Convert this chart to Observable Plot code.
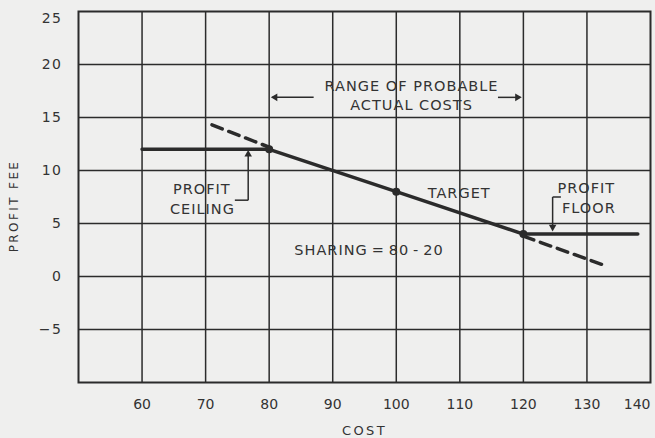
<!DOCTYPE html>
<html>
<head>
<meta charset="utf-8">
<script src="https://cdn.jsdelivr.net/npm/d3@7"></script>
<script src="https://cdn.jsdelivr.net/npm/@observablehq/plot@0.6"></script>
<style>
  html, body { margin: 0; padding: 0; background: #efefee; }
  #chart svg { display: block; background: #efefee; }
  #chart g[aria-label="text"] text { letter-spacing: 1px; }
  #chart g[aria-label="text"]:nth-of-type(n) text.axis-title { letter-spacing: 2.4px; }
  #chart g[aria-label="y-axis tick label"] text { letter-spacing: 1.5px; }
</style>
</head>
<body>
<div id="chart"></div>
<script>
// Tick values
const xTicks = [60, 70, 80, 90, 100, 110, 120, 130, 140];
const yTicks = [-5, 0, 5, 10, 15, 20, 25];
const xGrid = [60, 70, 80, 90, 100, 110, 120, 130];
const yGrid = [-5, 0, 5, 10, 15, 20];

// Profit fee schedule (solid)
const feeCost = [60, 80, 100, 120, 138];
const feeProfit = [12, 12, 8, 4, 4];

// Extension of the sharing line (dashed)
const ceilDashCost = [71, 80];
const ceilDashProfit = [14.3, 12.2];
const floorDashCost = [120, 133];
const floorDashProfit = [3.8, 1];

// Marked points: ceiling, target, floor
const pointCost = [80, 100, 120];
const pointProfit = [12, 8, 4];

// Annotations (data coordinates)
const labelText = ["RANGE OF PROBABLE", "ACTUAL COSTS", "PROFIT", "CEILING", "TARGET", "PROFIT", "FLOOR", "SHARING\u2009=\u200980\u2009-\u200920"];
const labelCost = [102.4, 102.4, 69.4, 69.5, 109.9, 129.9, 130.3, 95.7];
const labelProfit = [17.9, 16.1, 8.2, 6.3, 7.85, 8.3, 6.4, 2.5];

// Axis titles
const xTitle = "COST";
const yTitle = "PROFIT FEE";

// Arrow shafts and leader lines
const shafts = [
  {x1: 87, y1: 16.9, x2: 80.5, y2: 16.9},
  {x1: 116, y1: 16.9, x2: 119.5, y2: 16.9},
  {x1: 74.6, y1: 7.2, x2: 76.7, y2: 7.2},
  {x1: 76.7, y1: 7.2, x2: 76.7, y2: 11.5},
  {x1: 125.9, y1: 7.5, x2: 124.6, y2: 7.5},
  {x1: 124.6, y1: 7.5, x2: 124.6, y2: 4.5}
];
// Arrow tips
const tipLeft = [{x: 80, y: 16.9}];
const tipRight = [{x: 120, y: 16.9}];
const tipUp = [{x: 76.7, y: 12.1}];
const tipDown = [{x: 124.6, y: 4.1}];

const fee = feeCost.map((c, i) => ({cost: c, profit: feeProfit[i]}));
const dash1 = ceilDashCost.map((c, i) => ({cost: c, profit: ceilDashProfit[i]}));
const dash2 = floorDashCost.map((c, i) => ({cost: c, profit: floorDashProfit[i]}));
const pts = pointCost.map((c, i) => ({cost: c, profit: pointProfit[i]}));
const labels = labelText.map((t, i) => ({text: t, cost: labelCost[i], profit: labelProfit[i]}));

const ink = "#2b2b2b";
const textInk = "#333333";
const font = "DejaVu Sans, sans-serif";
const head = {symbol: "triangle2", r: 3.6, fill: ink};

const chart = Plot.plot({
  width: 655,
  height: 438,
  marginLeft: 78,
  marginRight: 5,
  marginTop: 11,
  marginBottom: 56,
  style: {fontFamily: font, background: "#efefee", color: ink},
  x: {domain: [50, 140]},
  y: {domain: [-10, 25]},
  marks: [
    Plot.ruleX(xGrid, {stroke: ink, strokeWidth: 1.5}),
    Plot.ruleY(yGrid, {stroke: ink, strokeWidth: 1.5}),
    Plot.frame({stroke: ink, strokeWidth: 2}),
    Plot.axisX(xTicks.filter(d => d !== 140), {tickSize: 0, tickPadding: 17, fontSize: 14, label: null, fill: textInk}),
    Plot.axisX([140], {tickSize: 0, tickPadding: 17, fontSize: 14, label: null, fill: textInk, textAnchor: "end"}),
    Plot.axisY(yTicks.filter(d => d !== 25), {tickSize: 0, tickPadding: 16, fontSize: 14, label: null, fill: textInk}),
    Plot.axisY([25], {tickSize: 0, tickPadding: 16, fontSize: 14, label: null, fill: textInk, dy: 7}),
    Plot.text([xTitle], {frameAnchor: "bottom", dy: 52, text: d => d, fontSize: 13, fill: textInk}),
    Plot.text([yTitle], {frameAnchor: "left", dx: -64, dy: 9, rotate: -90, textAnchor: "middle", text: d => d, fontSize: 12, fill: textInk}),
    Plot.line(dash1, {x: "cost", y: "profit", stroke: ink, strokeWidth: 3.5, strokeDasharray: "11,7"}),
    Plot.line(dash2, {x: "cost", y: "profit", stroke: ink, strokeWidth: 3.5, strokeDasharray: "11,7"}),
    Plot.line(fee, {x: "cost", y: "profit", stroke: ink, strokeWidth: 3.5}),
    Plot.dot(pts, {x: "cost", y: "profit", r: 4, fill: ink}),
    Plot.link(shafts, {x1: "x1", y1: "y1", x2: "x2", y2: "y2", stroke: ink, strokeWidth: 1.5}),
    Plot.dot(tipLeft, {x: "x", y: "y", ...head, rotate: -90, dx: 6}),
    Plot.dot(tipRight, {x: "x", y: "y", ...head, rotate: 90, dx: -6}),
    Plot.dot(tipUp, {x: "x", y: "y", ...head, rotate: 0, dy: 6}),
    Plot.dot(tipDown, {x: "x", y: "y", ...head, rotate: 180, dy: -6}),
    Plot.text(labels, {x: "cost", y: "profit", text: "text", fontSize: 14.5, fill: textInk})
  ]
});
// wider tracking for the axis titles
d3.select(chart).selectAll('g[aria-label="text"] text')
  .filter(function() { return this.textContent === xTitle || this.textContent === yTitle; })
  .style("letter-spacing", "2.4px");
document.getElementById("chart").appendChild(chart);
</script>
</body>
</html>
